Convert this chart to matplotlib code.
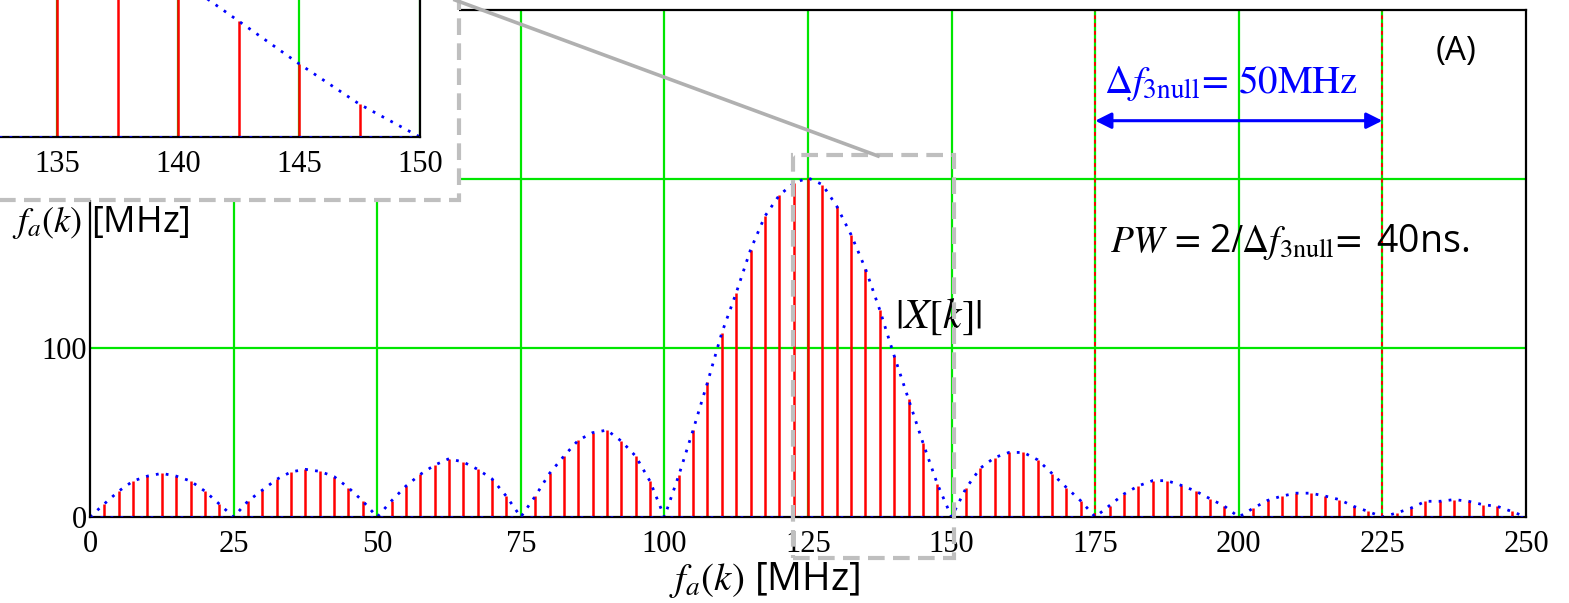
import matplotlib
matplotlib.use("Agg")
import matplotlib.pyplot as plt
import matplotlib.patches as mpatches
from matplotlib.lines import Line2D
import numpy as np

plt.rcParams['mathtext.fontset'] = 'stix'

# spectrum samples, 2.5 MHz bin spacing, k = 0..100
bin_step = 2.5
mag = [
    0.0, 7.8, 15.3, 21.3, 24.2, 25.8, 24.2, 21.3, 15.3, 7.7,
    0.0, 9.4, 15.9, 22.3, 26.7, 28.2, 27.0, 23.9, 17.3, 9.4,
    0.0, 9.6, 18.3, 25.2, 30.7, 34.5, 32.5, 28.2, 22.5, 12.2,
    0.0, 12.2, 25.8, 36.0, 45.4, 49.9, 51.4, 44.9, 36.0, 21.1,
    0.0, 24.6, 51.5, 79.6, 109.0, 132.6, 158.2, 178.0, 190.4, 197.5,
    200.7, 196.7, 183.9, 167.0, 146.9, 122.5, 95.4, 69.7, 44.0, 19.7,
    0.0, 17.0, 28.9, 35.2, 38.2, 38.2, 33.8, 25.7, 17.4, 9.5,
    0.0, 6.8, 13.6, 18.4, 21.5, 21.5, 18.7, 15.3, 10.8, 6.4,
    0.0, 5.2, 9.8, 12.4, 14.1, 14.1, 12.4, 10.3, 6.3, 3.3,
    0.0, 2.4, 5.3, 9.3, 9.3, 10.3, 9.3, 7.3, 6.3, 3.3,
    0.0,
]
freq = np.arange(len(mag)) * bin_step

x_ticks = [0, 25, 50, 75, 100, 125, 150, 175, 200, 225, 250]
y_ticks = [0, 100, 200]
y_labels = ['0', '100', '']   # the 200 label sits under the zoom panel
inset_ticks = [135, 140, 145, 150]
null_lines = [175, 225]

GREEN = '#00e600'
GREY = '#bfbfbf'
W, H = 1569, 603

fig = plt.figure(figsize=(W / 100, H / 100), dpi=100)


def draw_spectrum(ax):
    ax.vlines(freq, 0, mag, colors='red', lw=1.8, zorder=3)
    ax.plot(freq, mag, color='blue', lw=2.0, ls=(0, (1, 2.6)), zorder=4)
    # dotted trace along the zero line, on top of the spine
    ax.plot(freq, np.zeros_like(freq), color='blue', lw=2.0, ls=(0, (1, 2.6)),
            zorder=6)
    for s in ax.spines.values():
        s.set_linewidth(1.6)
        s.set_color('black')
        s.set_zorder(5)
    ax.tick_params(length=0)
    for lab in ax.get_xticklabels() + ax.get_yticklabels():
        lab.set_family('Liberation Serif')
        lab.set_fontsize(22)


# main plot
ax = fig.add_axes([90 / W, 1 - 517 / H, (1526 - 90) / W, (517 - 10) / H])
ax.set_xlim(0, 250)
ax.set_ylim(0, 300)
ax.set_xticks(x_ticks)
ax.set_yticks(y_ticks, y_labels)
ax.tick_params(axis='x', pad=9)
ax.tick_params(axis='y', pad=2)
for x in x_ticks[1:-1]:
    ax.axvline(x, color=GREEN, lw=1.6, zorder=1)
for y in y_ticks[1:]:
    ax.axhline(y, color=GREEN, lw=1.6, zorder=1)
for x in null_lines:
    ax.axvline(x, color='red', lw=1.4, ls=(0, (2, 2)), zorder=2)
draw_spectrum(ax)

ax.annotate('', xy=(175, 234.5), xytext=(225, 234.5),
            arrowprops=dict(arrowstyle='<|-|>', color='blue', lw=2.2,
                            mutation_scale=24, shrinkA=0, shrinkB=0))
ax.text(176.5, 251, r'$\Delta f_{\mathrm{3null}}\!=\,\mathrm{50MHz}$',
        color='blue', fontsize=28, va='baseline', ha='left')
ax.text(177.5, 157, r'$PW\,=\,$2$/\Delta f_{\mathrm{3null}}\!=$ 40ns.',
        color='black', fontsize=27, va='baseline', ha='left', family='Open Sans')
ax.text(234.3, 270.5, '(A)', fontsize=24, va='baseline', ha='left', family='Open Sans')
ax.text(140.2, 112, r'$|X[k]|$', fontsize=30, va='baseline', ha='left')

# dashed zoom window around the main lobe
ax.add_patch(mpatches.Rectangle((122.4, -24.3), 28.0, 238.5, fill=False,
                                edgecolor=GREY, lw=3.0, ls=(0, (4, 2)),
                                clip_on=False, zorder=7))

fig.text(765 / W, 1 - 590 / H, r'$f_a(k)$ [MHz]', fontsize=28, ha='center',
         va='baseline', family='Open Sans')

# white panel holding the zoomed view
fig.add_artist(mpatches.Rectangle((-0.01, 1 - 200 / H), 475 / W, 0.5,
                                  transform=fig.transFigure, facecolor='white',
                                  edgecolor='none', zorder=2))

axi = fig.add_axes([0, 1 - 137 / H, 420 / W, 150 / H], zorder=3)
axi.set_xlim(150 - 420 / 24.2, 150)
axi.set_ylim(0, 150 / 1.665)
axi.set_xticks(inset_ticks)
axi.set_yticks([])
axi.tick_params(axis='x', pad=9)
for x in inset_ticks:
    axi.axvline(x, color=GREEN, lw=1.6, zorder=1)
draw_spectrum(axi)
axi.spines['left'].set_visible(False)
axi.spines['top'].set_visible(False)

fig.add_artist(mpatches.Rectangle((-0.01, 1 - 200 / H), 475 / W, 0.5,
                                  transform=fig.transFigure, fill=False,
                                  edgecolor=GREY, lw=3.0, ls=(0, (4, 2)),
                                  zorder=4))
fig.add_artist(Line2D([455 / W, 878 / W], [1.0, 1 - 156 / H],
                      transform=fig.transFigure, color='#b0b0b0', lw=2.6,
                      zorder=4))
fig.text(12 / W, 1 - 232 / H, r'$f_a(k)$ [MHz]', fontsize=26, ha='left',
         va='baseline', family='Open Sans')

fig.savefig('out.png', dpi=100)
